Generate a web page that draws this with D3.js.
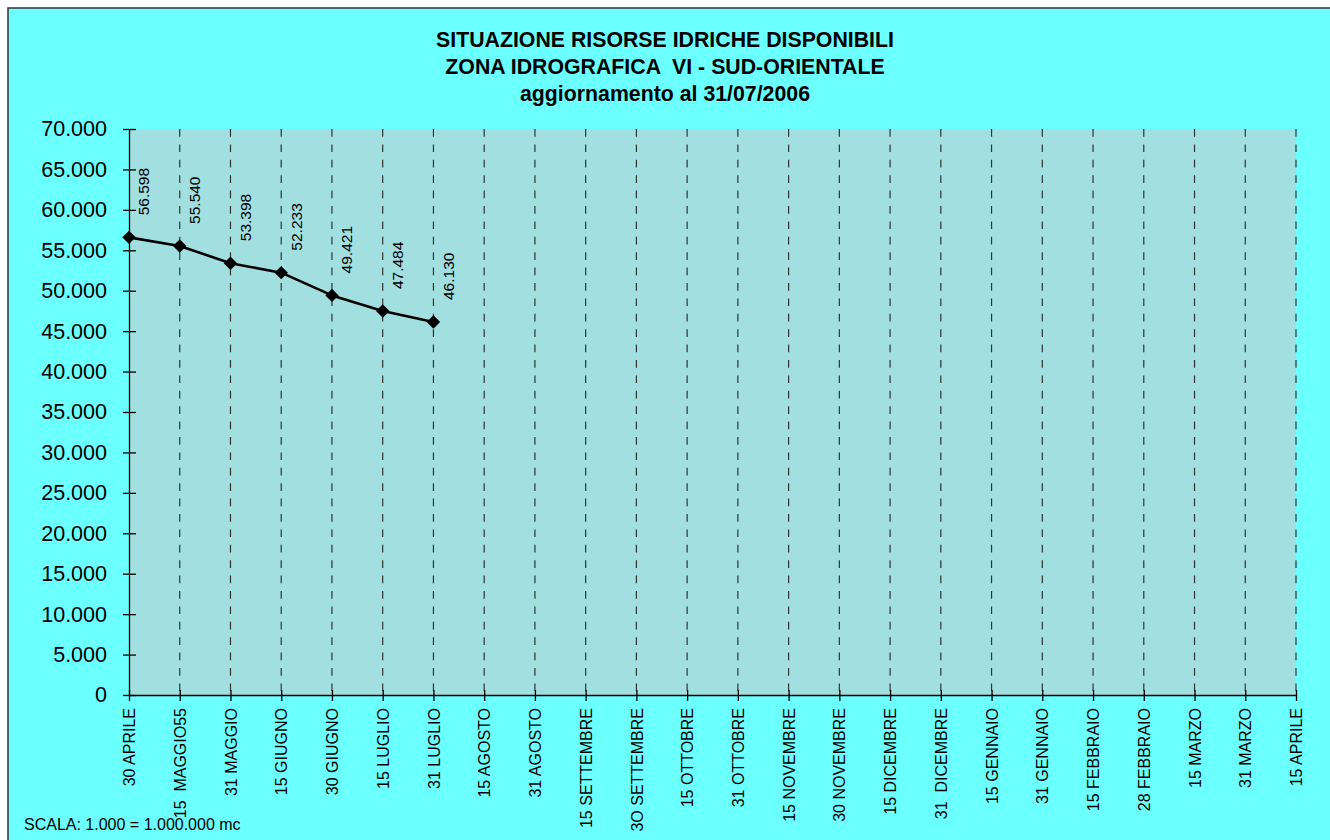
<!DOCTYPE html>
<html>
<head>
<meta charset="utf-8">
<script src="https://cdn.jsdelivr.net/npm/d3@7"></script>
<style>
  body { margin: 0; background: #ffffff; }
  svg { display: block; font-family: Arial, "Liberation Sans", sans-serif; }
  text { white-space: pre; }
</style>
</head>
<body>
<div id="chart"></div>
<script>
// --- Data ---
const categories = [
  "30 APRILE", "15  MAGGIO55", "31 MAGGIO", "15 GIUGNO", "30 GIUGNO", "15 LUGLIO",
  "31 LUGLIO", "15 AGOSTO", "31 AGOSTO", "15 SETTEMBRE", "3O SETTEMBRE", "15 OTTOBRE",
  "31 OTTOBRE", "15 NOVEMBRE", "30 NOVEMBRE", "15 DICEMBRE", "31  DICEMBRE", "15 GENNAIO",
  "31 GENNAIO", "15 FEBBRAIO", "28 FEBBRAIO", "15 MARZO", "31 MARZO", "15 APRILE"
];
const volumes = [56598, 55540, 53398, 52233, 49421, 47484, 46130];
const yTicks = d3.range(0, 70001, 5000);
const titleLines = [
  "SITUAZIONE RISORSE IDRICHE DISPONIBILI",
  "ZONA IDROGRAFICA  VI - SUD-ORIENTALE",
  "aggiornamento al 31/07/2006"
];
const footnote = "SCALA: 1.000 = 1.000.000 mc";

// --- Layout ---
const W = 1330, H = 840;
const plot = { left: 129, right: 1296, top: 129, bottom: 695 };

const it = d3.formatLocale({ decimal: ",", thousands: ".", grouping: [3], currency: ["", " €"] });
const fmt = it.format(",d");

const svg = d3.select("#chart").append("svg")
  .attr("width", W)
  .attr("height", H);

// outer frame (runs off the bottom/right of the picture)
svg.append("rect")
  .attr("x", 8).attr("y", 8)
  .attr("width", W + 20).attr("height", H + 20)
  .attr("fill", "#6cffff")
  .attr("stroke", "#333")
  .attr("stroke-width", 1.5);

// --- Scales ---
const x = d3.scalePoint()
  .domain(categories)
  .range([plot.left, plot.right]);

const y = d3.scaleLinear()
  .domain([0, 70000])
  .range([plot.bottom, plot.top]);

// plot area
svg.append("rect")
  .attr("x", plot.left).attr("y", plot.top)
  .attr("width", plot.right - plot.left)
  .attr("height", plot.bottom - plot.top)
  .attr("fill", "#a2dfe0");

// vertical dashed grid
svg.append("g")
  .selectAll("line")
  .data(categories.slice(1))
  .join("line")
  .attr("x1", d => x(d)).attr("x2", d => x(d))
  .attr("y1", plot.top).attr("y2", plot.bottom)
  .attr("stroke", "#333")
  .attr("stroke-width", 1.2)
  .attr("stroke-dasharray", "7.7,7.7");

// --- Title ---
svg.append("g")
  .selectAll("text")
  .data(titleLines)
  .join("text")
  .attr("x", W / 2)
  .attr("y", (d, i) => 47 + i * 27)
  .attr("text-anchor", "middle")
  .style("font-size", "21.3px")
  .style("font-weight", "bold")
  .text(d => d);

// --- Y axis ---
const yAxis = svg.append("g")
  .attr("transform", `translate(${plot.left},0)`)
  .call(d3.axisLeft(y).tickValues(yTicks).tickFormat(fmt).tickSizeInner(6).tickSizeOuter(0).tickPadding(16));
yAxis.select(".domain").attr("stroke", "#000").attr("stroke-width", 1.3);
yAxis.selectAll(".tick line").attr("x2", 7).attr("x1", -6).attr("stroke", "#000").attr("stroke-width", 1.3);
yAxis.selectAll(".tick text")
  .attr("fill", "#000")
  .style("font-size", "21.5px")
  .style("font-family", "Arial, 'Liberation Sans', sans-serif");

// --- X axis ---
const xAxis = svg.append("g")
  .attr("transform", `translate(0,${plot.bottom})`)
  .call(d3.axisBottom(x).tickSizeInner(5).tickSizeOuter(0));
xAxis.select(".domain").attr("stroke", "#000").attr("stroke-width", 1.3);
xAxis.selectAll(".tick line").attr("y1", -5).attr("y2", 6).attr("stroke", "#000").attr("stroke-width", 1.3);
xAxis.selectAll(".tick text")
  .attr("fill", "#000")
  .attr("transform", "translate(0,13) rotate(-90)")
  .attr("x", 0).attr("y", 0)
  .attr("dy", "0.35em")
  .attr("text-anchor", "end")
  .style("font-size", "16px")
  .style("font-family", "Arial, 'Liberation Sans', sans-serif");

// --- Series ---
const pts = volumes.map((v, i) => ({ cat: categories[i], v }));

svg.append("path")
  .datum(pts)
  .attr("fill", "none")
  .attr("stroke", "#000")
  .attr("stroke-width", 2.6)
  .attr("stroke-linejoin", "round")
  .attr("d", d3.line().x(d => x(d.cat)).y(d => y(d.v)));

svg.append("g")
  .selectAll("path")
  .data(pts)
  .join("path")
  .attr("d", d3.symbol(d3.symbolSquare, 90))
  .attr("transform", d => `translate(${x(d.cat)},${y(d.v)}) rotate(45)`)
  .attr("fill", "#000");

// data labels, rotated
svg.append("g")
  .selectAll("text")
  .data(pts)
  .join("text")
  .attr("transform", d => `translate(${x(d.cat) + 15},${y(d.v) - 22}) rotate(-90)`)
  .attr("dy", "0.35em")
  .attr("text-anchor", "start")
  .style("font-size", "15.5px")
  .text(d => fmt(d.v));

// --- Footnote ---
svg.append("text")
  .attr("x", 24)
  .attr("y", 830)
  .style("font-size", "16px")
  .text(footnote);
</script>
</body>
</html>
